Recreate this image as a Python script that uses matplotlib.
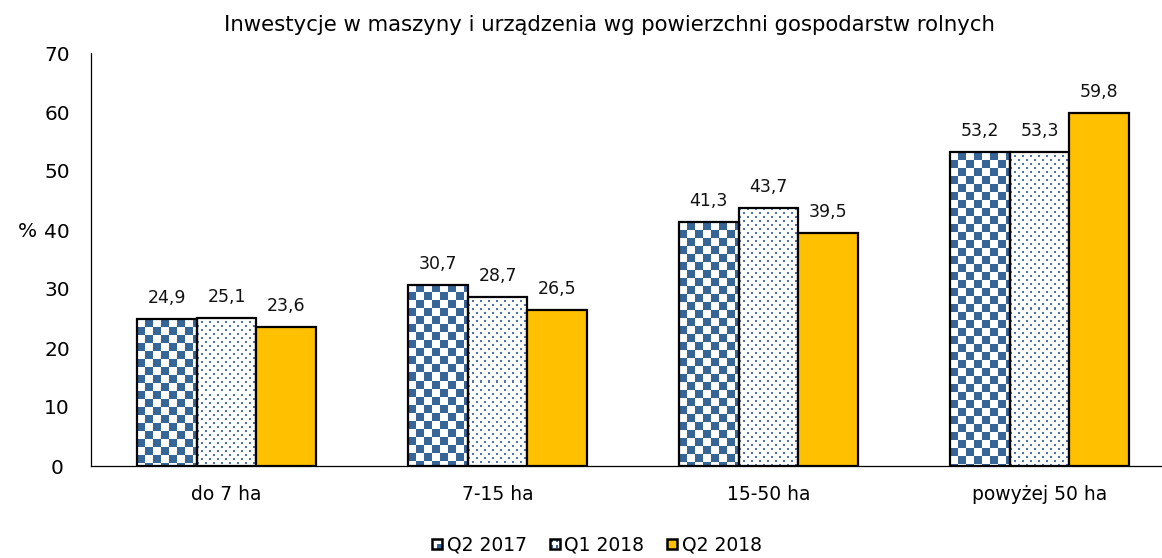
import numpy as np
import matplotlib
matplotlib.use("Agg")
import matplotlib.pyplot as plt
from matplotlib.patches import Rectangle
from matplotlib.legend_handler import HandlerBase
from matplotlib.colors import to_rgb

# --- data ---------------------------------------------------------------
categories = ["do 7 ha", "7-15 ha", "15-50 ha", "powyżej 50 ha"]
series_names = ["Q2 2017", "Q1 2018", "Q2 2018"]
q2_2017 = [24.9, 30.7, 41.3, 53.2]
q1_2018 = [25.1, 28.7, 43.7, 53.3]
q2_2018 = [23.6, 26.5, 39.5, 59.8]
y_ticks = [0, 10, 20, 30, 40, 50, 60, 70]
title = "Inwestycje w maszyny i urządzenia wg powierzchni gospodarstw rolnych"

# --- styles ---------------------------------------------------------------
BLUE = "#386597"
DOT_BLUE = "#4F74A8"
YELLOW = "#FFC000"
FONT = "DejaVu Sans"
plt.rcParams["font.family"] = [FONT]

W, H, DPI = 1162, 558, 100
fig = plt.figure(figsize=(W / DPI, H / DPI), dpi=DPI)
fig.patch.set_facecolor("white")
ax = fig.add_axes([91 / W, (H - 466) / H, 1084 / W, 413 / H])

x = np.arange(len(categories))
bw = 0.2214
offsets = [-bw, 0.0, bw]
ax.set_xlim(-0.5, len(categories) - 0.5)
ax.set_ylim(0, 70)


def checker(w, h, cell=8):
    yy, xx = np.mgrid[0:h, 0:w]
    img = np.ones((h, w, 3))
    mask = ((xx // cell) + (yy // cell)) % 2 == 1
    img[mask] = to_rgb(BLUE)
    return img


def dots(w, h):
    yy, xx = np.mgrid[0:h, 0:w]
    img = np.ones((h, w, 3))
    row = yy // 4
    mask = ((yy % 4) < 2) & (((xx + (row % 2) * 4) % 8) < 2)
    img[mask] = to_rgb(DOT_BLUE)
    return img


def patterned_bars(values, offset, maker):
    bars = ax.bar(x + offset, values, width=bw, facecolor="none",
                  edgecolor="black", linewidth=1.6, zorder=3)
    for rect in bars:
        x0 = rect.get_x()
        x1 = x0 + rect.get_width()
        y1 = rect.get_height()
        p0 = ax.transData.transform((x0, 0))
        p1 = ax.transData.transform((x1, y1))
        w = max(int(round(p1[0] - p0[0])), 1)
        h = max(int(round(p1[1] - p0[1])), 1)
        ax.imshow(maker(w, h), extent=(x0, x1, 0, y1), aspect="auto",
                  interpolation="nearest", zorder=2)
    return bars


b1 = patterned_bars(q2_2017, offsets[0], checker)
b2 = patterned_bars(q1_2018, offsets[1], dots)
b3 = ax.bar(x + offsets[2], q2_2018, width=bw, facecolor=YELLOW,
            edgecolor="black", linewidth=1.6, zorder=3)

ax.set_xlim(-0.5, len(categories) - 0.5)
ax.set_ylim(0, 70)

# value labels
for bars, vals in ((b1, q2_2017), (b2, q1_2018), (b3, q2_2018)):
    for rect, v in zip(bars, vals):
        ax.annotate(f"{v:.1f}".replace(".", ","),
                    (rect.get_x() + rect.get_width() / 2, v),
                    xytext=(0, 15), textcoords="offset points",
                    ha="center", va="center", fontsize=12.5, color="#111111")

# axes
ax.set_yticks(y_ticks)
ax.set_yticklabels([str(t) for t in y_ticks], fontsize=14.5)
ax.set_xticks(x)
ax.set_xticklabels(categories, fontsize=13.5)
ax.tick_params(axis="both", length=0)
ax.tick_params(axis="y", pad=24.5)
ax.tick_params(axis="x", pad=14)
for t in ax.get_yticklabels():
    t.set_horizontalalignment("center")
for s in ("top", "right"):
    ax.spines[s].set_visible(False)
for s in ("left", "bottom"):
    ax.spines[s].set_color("black")
    ax.spines[s].set_linewidth(0.9)

fig.text(27 / W, 1 - 232 / H, "%", fontsize=14.5, ha="center", va="center")
fig.text(609 / W, 1 - 25 / H, title, fontsize=15.3, ha="center", va="center")


# legend with small patterned swatches
class SwatchHandler(HandlerBase):
    def __init__(self, kind):
        super().__init__()
        self.kind = kind

    def create_artists(self, legend, orig_handle, xdescent, ydescent,
                       width, height, fontsize, trans):
        s = min(width, height)
        x0 = -xdescent + (width - s) / 2
        y0 = -ydescent + (height - s) / 2
        arts = []
        if self.kind == "checker":
            arts.append(Rectangle((x0, y0), s, s, facecolor="white",
                                  edgecolor="none"))
            arts.append(Rectangle((x0 + s / 2, y0), s / 2, s / 2,
                                  facecolor=BLUE, edgecolor="none"))
        elif self.kind == "dots":
            arts.append(Rectangle((x0, y0), s, s, facecolor="white",
                                  edgecolor="none"))
            d = s * 0.22
            for cx, cy in ((0.25, 0.25), (0.75, 0.25), (0.25, 0.75), (0.75, 0.75)):
                arts.append(Rectangle((x0 + cx * s - d / 2, y0 + cy * s - d / 2),
                                      d, d, facecolor=BLUE, edgecolor="none"))
        else:
            arts.append(Rectangle((x0, y0), s, s, facecolor=YELLOW,
                                  edgecolor="none"))
        arts.append(Rectangle((x0, y0), s, s, facecolor="none",
                              edgecolor="black", linewidth=1.8))
        for a in arts:
            a.set_transform(trans)
        return arts


h1 = Rectangle((0, 0), 1, 1)
h2 = Rectangle((0, 0), 1, 1)
h3 = Rectangle((0, 0), 1, 1)
fig.legend([h1, h2, h3], series_names, loc="center",
           bbox_to_anchor=(597 / W, 1 - 545 / H), ncol=3, frameon=False,
           fontsize=13.5, handlelength=0.55, handleheight=0.55,
           handletextpad=0.25, columnspacing=1.2, borderpad=0,
           handler_map={h1: SwatchHandler("checker"),
                        h2: SwatchHandler("dots"),
                        h3: SwatchHandler("plain")})

fig.savefig("out.png", dpi=DPI, facecolor="white")
